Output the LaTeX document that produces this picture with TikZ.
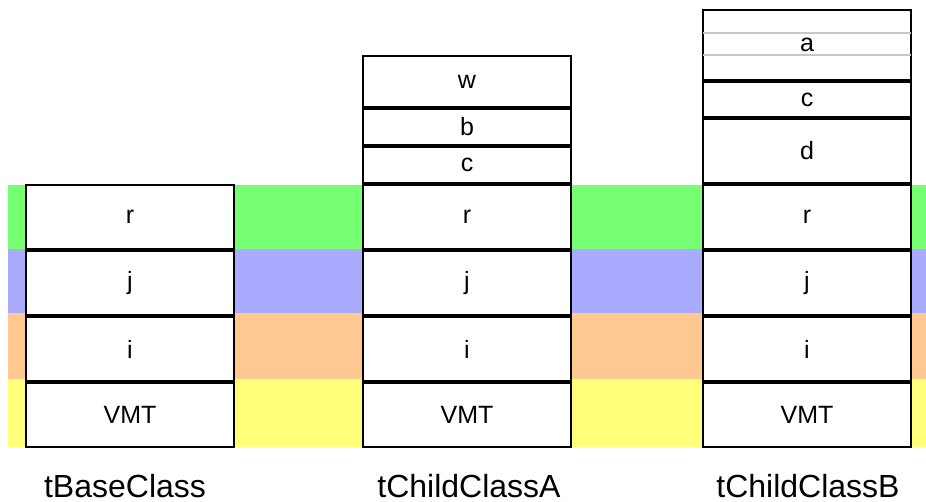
\documentclass[tikz,border=0pt]{standalone}
\usepackage{fontspec}
\setmainfont{Liberation Sans}
\definecolor{bandgreen}{RGB}{118,255,112}
\definecolor{bandblue}{RGB}{170,170,255}
\definecolor{bandorange}{RGB}{255,200,144}
\definecolor{bandyellow}{RGB}{255,255,122}
\begin{document}
\begin{tikzpicture}[x=1pt,y=-1pt,
  cell/.style={draw=black, line width=2pt, fill=white, inner sep=0pt,
    anchor=north west, minimum width=208pt,
    font=\fontsize{25}{25}\selectfont},
  lbl/.style={font=\fontsize{32}{32}\selectfont, anchor=base},
  sep/.style={draw=black!22, line width=1.5pt}]
\useasboundingbox (0,0) rectangle (926,502);
% bands
\fill[bandgreen]  (8,185) rectangle (926,249);
\fill[bandblue]   (8,249) rectangle (926,313);
\fill[bandorange] (8,313) rectangle (926,379);
\fill[bandyellow] (8,379) rectangle (926,447);
% tBaseClass
\node[cell, minimum height=64pt] (br) at (25,184) {r};
\node[cell, minimum height=64pt] (bj) at (25,250) {j};
\node[cell, minimum height=64pt] (bi) at (25,316) {i};
\node[cell, minimum height=64pt] (bv) at (25,382) {VMT};
% tChildClassA
\node[cell, minimum height=51pt] (aw) at (362,55) {w};
\node[cell, minimum height=36pt] (ab) at (362,108) {b};
\node[cell, minimum height=36pt] (ac) at (362,146) {c};
\node[cell, minimum height=64pt] (ar) at (362,184) {r};
\node[cell, minimum height=64pt] (aj) at (362,250) {j};
\node[cell, minimum height=64pt] (ai) at (362,316) {i};
\node[cell, minimum height=64pt] (av) at (362,382) {VMT};
% tChildClassB
\node[cell, minimum height=70pt] (ba) at (702,9) {a};
\draw[sep] ([xshift=1pt]ba.west |- 0,33) -- ([xshift=-1pt]ba.east |- 0,33);
\draw[sep] ([xshift=1pt]ba.west |- 0,55) -- ([xshift=-1pt]ba.east |- 0,55);
\node[cell, minimum height=35pt] (bc) at (702,81) {c};
\node[cell, minimum height=64pt] (bd) at (702,118) {d};
\node[cell, minimum height=64pt] (cr) at (702,184) {r};
\node[cell, minimum height=64pt] (cj) at (702,250) {j};
\node[cell, minimum height=64pt] (ci) at (702,316) {i};
\node[cell, minimum height=64pt] (cv) at (702,382) {VMT};
% class names
\node[lbl] (nb) at (125,497) {tBaseClass};
\node[lbl] (na) at (469,497) {tChildClassA};
\node[lbl] (nc) at (808,497) {tChildClassB};
\end{tikzpicture}
\end{document}
